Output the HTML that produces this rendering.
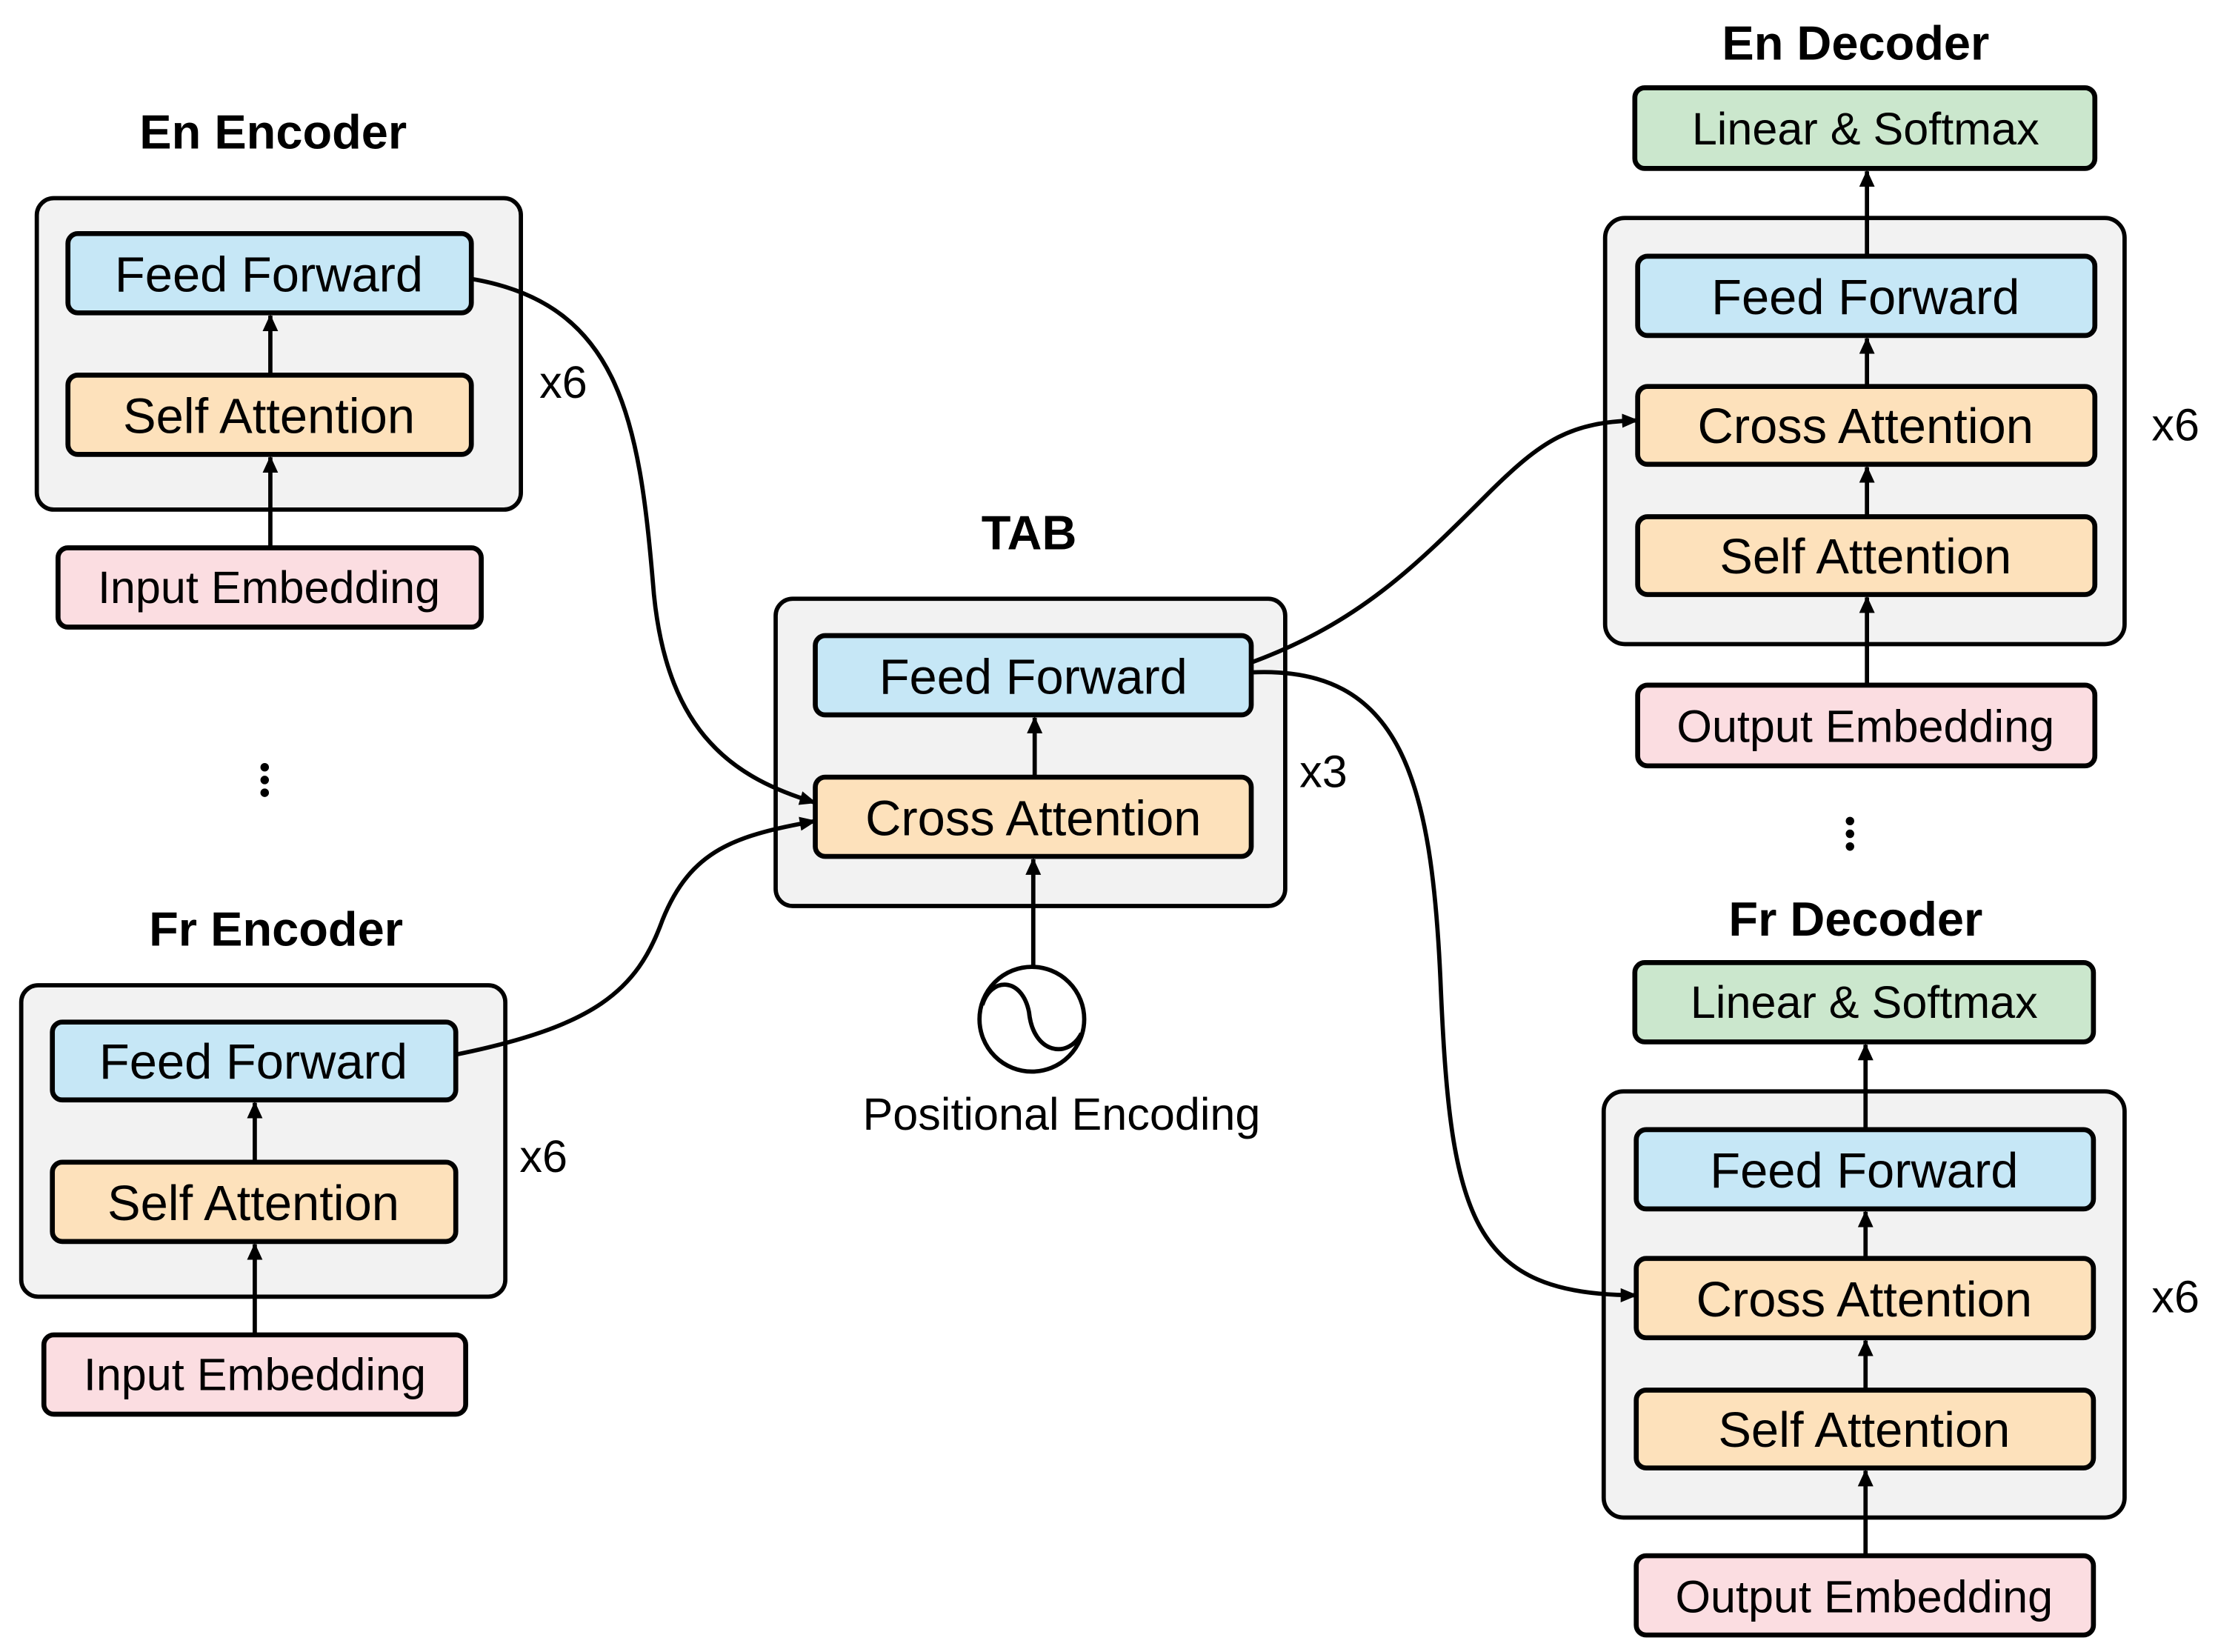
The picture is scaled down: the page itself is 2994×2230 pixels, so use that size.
<!DOCTYPE html>
<html><head><style>html,body{margin:0;padding:0;background:#fff}svg{display:block}</style></head><body>
<svg width="2994" height="2230" viewBox="0 0 1567 1167" preserveAspectRatio="none" xmlns="http://www.w3.org/2000/svg" font-family="Liberation Sans, sans-serif">
<defs>
<marker id="a" markerWidth="12" markerHeight="14" refX="11" refY="6" orient="auto" markerUnits="userSpaceOnUse" viewBox="0 0 12 12"><path d="M0,0.5 L12,6 L0,11.5 z" fill="#000"/></marker>
<marker id="b" markerWidth="12" markerHeight="12" refX="11" refY="6" orient="auto" markerUnits="userSpaceOnUse" viewBox="0 0 12 12"><path d="M0,1 L12,6 L0,11 z" fill="#000"/></marker></defs>
<g stroke="#000" stroke-width="3">
<rect x="26" y="140" width="342" height="220" rx="12" fill="#f2f2f2"/>
<rect x="15" y="696" width="342" height="220" rx="12" fill="#f2f2f2"/>
<rect x="548" y="423" width="360" height="217" rx="12" fill="#f2f2f2"/>
<rect x="1134" y="154" width="367" height="301" rx="14" fill="#f2f2f2"/>
<rect x="1133" y="771" width="368" height="301" rx="14" fill="#f2f2f2"/>
<g stroke-width="3.5">
<rect x="48" y="165" width="285" height="56" rx="7" fill="#c6e7f6"/>
<rect x="48" y="265" width="285" height="56" rx="7" fill="#fde1bb"/>
<rect x="41" y="387" width="299" height="56" rx="7" fill="#fbdde1"/>
<rect x="37" y="722" width="285" height="55" rx="7" fill="#c6e7f6"/>
<rect x="37" y="821" width="285" height="56" rx="7" fill="#fde1bb"/>
<rect x="31" y="943" width="298" height="56" rx="7" fill="#fbdde1"/>
<rect x="576" y="449" width="308" height="56" rx="7" fill="#c6e7f6"/>
<rect x="576" y="549" width="308" height="56" rx="7" fill="#fde1bb"/>
<rect x="1155" y="62" width="325" height="57" rx="7" fill="#cbe7cd"/>
<rect x="1157" y="181" width="323" height="56" rx="7" fill="#c6e7f6"/>
<rect x="1157" y="273" width="323" height="55" rx="7" fill="#fde1bb"/>
<rect x="1157" y="365" width="323" height="55" rx="7" fill="#fde1bb"/>
<rect x="1157" y="484" width="323" height="57" rx="7" fill="#fbdde1"/>
<rect x="1155" y="680" width="324" height="56" rx="7" fill="#cbe7cd"/>
<rect x="1156" y="798" width="323" height="56" rx="7" fill="#c6e7f6"/>
<rect x="1156" y="889" width="323" height="56" rx="7" fill="#fde1bb"/>
<rect x="1156" y="982" width="323" height="55" rx="7" fill="#fde1bb"/>
<rect x="1156" y="1099" width="323" height="56" rx="7" fill="#fbdde1"/>
</g>
<g fill="none" marker-end="url(#a)">
<line x1="191" y1="265" x2="191" y2="223"/>
<line x1="191" y1="387" x2="191" y2="323"/>
<line x1="180" y1="821" x2="180" y2="779"/>
<line x1="180" y1="943" x2="180" y2="879"/>
<line x1="731" y1="549" x2="731" y2="507"/>
<line x1="730" y1="683" x2="730" y2="607"/>
<line x1="1319" y1="181" x2="1319" y2="121"/>
<line x1="1319" y1="273" x2="1319" y2="239"/>
<line x1="1319" y1="365" x2="1319" y2="330"/>
<line x1="1319" y1="484" x2="1319" y2="422"/>
<line x1="1318" y1="798" x2="1318" y2="738"/>
<line x1="1318" y1="889" x2="1318" y2="856"/>
<line x1="1318" y1="982" x2="1318" y2="947"/>
<line x1="1318" y1="1099" x2="1318" y2="1039"/>
</g>
<g fill="none" marker-end="url(#b)">
<path d="M333,197 C440,215 452,300 462,420 C472,520 520,550 576,567"/>
<path d="M322,745 C420,725 450,700 468,650 C488,600 520,590 576,580"/>
<path d="M884,468 C960,440 1000,400 1050,350 C1090,310 1110,298 1157,297"/>
<path d="M884,475 C990,470 1012,550 1018,700 C1025,860 1040,915 1156,915"/>
</g>
<circle cx="729" cy="720" r="37" fill="#fff"/>
<path d="M694,710 C700,690 722,690 727,715 C730,745 755,748 764,730" fill="none"/>
</g>
<g fill="#000" font-size="35" text-anchor="middle">
<g font-weight="bold" font-size="34">
<text x="193" y="105">En Encoder</text>
<text x="195" y="668">Fr Encoder</text>
<text x="727" y="388">TAB</text>
<text x="1311" y="42">En Decoder</text>
<text x="1311" y="661">Fr Decoder</text>
</g>
<text x="190" y="206">Feed Forward</text>
<text x="190" y="306">Self Attention</text>
<text x="179" y="762">Feed Forward</text>
<text x="179" y="862">Self Attention</text>
<text x="730" y="490">Feed Forward</text>
<text x="730" y="590">Cross Attention</text>
<text x="1318" y="222">Feed Forward</text>
<text x="1318" y="313">Cross Attention</text>
<text x="1318" y="405">Self Attention</text>
<text x="1317" y="839">Feed Forward</text>
<text x="1317" y="930">Cross Attention</text>
<text x="1317" y="1022">Self Attention</text>
<g font-size="32">
<text x="190" y="426">Input Embedding</text>
<text x="180" y="982">Input Embedding</text>
<text x="1318" y="102">Linear &amp; Softmax</text>
<text x="1318" y="524">Output Embedding</text>
<text x="1317" y="719">Linear &amp; Softmax</text>
<text x="1317" y="1139">Output Embedding</text>
<text x="750" y="798">Positional Encoding</text>
<text x="398" y="281">x6</text>
<text x="384" y="828">x6</text>
<text x="935" y="556">x3</text>
<text x="1537" y="311">x6</text>
<text x="1537" y="927">x6</text>
</g>
</g>
<g fill="#000"><circle cx="187" cy="542" r="3"/><circle cx="187" cy="551" r="3"/><circle cx="187" cy="560" r="3"/>
<circle cx="1307" cy="580" r="3"/><circle cx="1307" cy="589" r="3"/><circle cx="1307" cy="598" r="3"/></g>
</svg>
</body></html>
